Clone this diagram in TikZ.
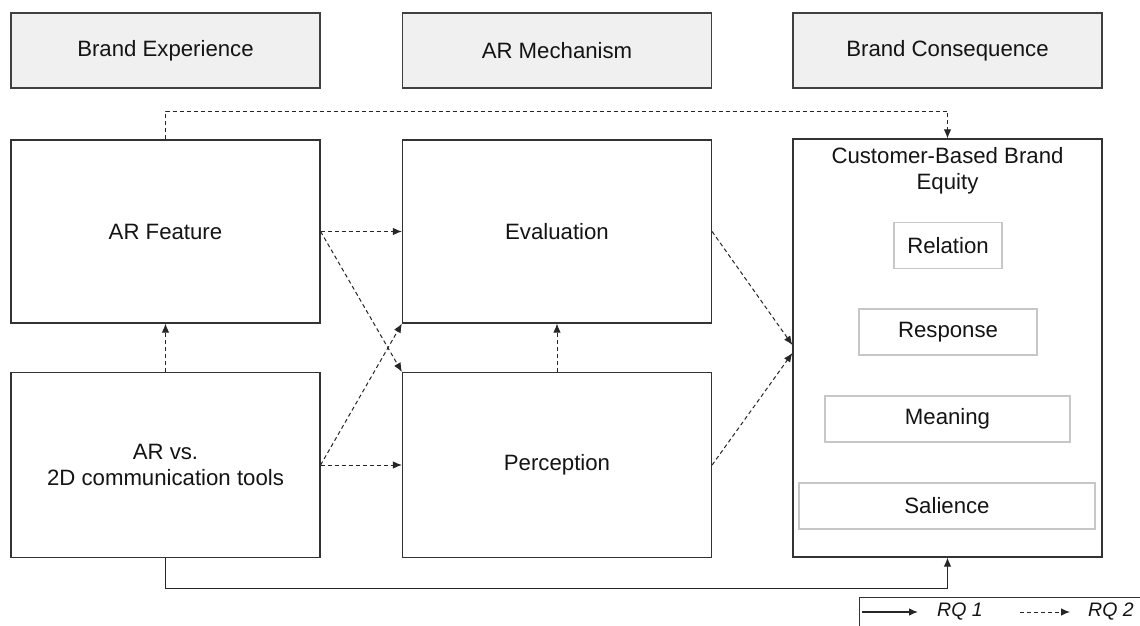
\documentclass[tikz,border=0pt]{standalone}
\usepackage{fontspec}
\setmainfont{Liberation Sans}
\usetikzlibrary{arrows.meta,calc}
\tikzset{
  txt/.style={font=\fontsize{22.2}{26}\selectfont, text=black!92},
  hdr/.style={txt, draw=black!75, fill=black!6, line width=1.2pt, minimum width=309pt, minimum height=75pt, inner sep=0pt},
  bigbox/.style={txt, draw=black!80, line width=1.2pt, minimum width=309pt, align=center, inner sep=0pt},
  subbox/.style={txt, draw=black!22, line width=1.2pt, minimum height=46pt, inner sep=0pt},
  dasharr/.style={draw=black!85, line width=1pt, dash pattern=on 4pt off 3pt, -{Latex[length=9pt,width=7.5pt]}},
  solarr/.style={draw=black!85, line width=1.1pt, -{Latex[length=9pt,width=7.5pt]}},
}
\begin{document}
\begin{tikzpicture}[x=1pt,y=-1pt]
\clip (0,0) rectangle (1140,626);
\fill[white] (0,0) rectangle (1140,626);

% headers
\node[hdr] (h1) at (165.5,50.5) {Brand Experience};
\node[hdr] (h2) at (557,50.5) {AR Mechanism};
\node[hdr] (h3) at (947.5,50.5) {Brand Consequence};

% main boxes
\node[bigbox, minimum height=183pt] (feat) at (165.5,231.5) {AR Feature};
\node[bigbox, minimum height=183pt] (eval) at (557,231.5) {Evaluation};
\node[bigbox, minimum height=185pt] (arvs) at (165.5,465) {AR vs.\\2D communication tools};
\node[bigbox, minimum height=185pt] (perc) at (557,465) {Perception};
\node[bigbox, minimum height=418pt] (cbbe) at (947.5,348) {};
\node[txt, align=center, inner sep=0pt] (cbt) at (947.5,171) {Customer-Based Brand\\Equity};

% sub boxes
\node[subbox, minimum width=108pt] (rel) at (948,245.5) {Relation};
\node[subbox, minimum width=178pt] (resp) at (948,332) {Response};
\node[subbox, minimum width=245pt] (mean) at (947.5,419) {Meaning};
\node[subbox, minimum width=296pt] (sal) at (947,506) {Salience};

% connectors
\draw[dasharr] (feat.north) -- ++(0,-28) -| (cbbe.north);
\draw[dasharr] (feat.east) -- (eval.west);
\draw[dasharr] (feat.east) -- (perc.north west);
\draw[dasharr] (arvs.east) -- (eval.south west);
\draw[dasharr] (arvs.east) -- (perc.west);
\draw[dasharr] (arvs.north) -- (feat.south);
\draw[dasharr] (perc.north) -- (eval.south);
\coordinate (ce1) at ($(cbbe.west)+(0,-3)$);
\coordinate (ce2) at ($(cbbe.west)+(0,5)$);
\draw[dasharr] (eval.east) -- (ce1);
\draw[dasharr] (perc.east) -- (ce2);
\draw[solarr] (arvs.south) -- ++(0,30) -| (cbbe.south);

% legend
\node[draw=black!80, line width=1.2pt, minimum width=320pt, minimum height=60pt, anchor=north west, inner sep=0pt] (legend) at (859,597) {};
\coordinate (l1a) at (862,612);
\coordinate (l1b) at (918,612);
\coordinate (l2a) at (1020,612);
\coordinate (l2b) at (1070,612);
\draw[solarr] (l1a) -- (l1b);
\draw[dasharr] (l2a) -- (l2b);
\node[txt, font=\fontsize{19.5}{22}\selectfont\itshape, anchor=west, inner sep=0pt] (rq1) at (937,612) {RQ 1};
\node[txt, font=\fontsize{19.5}{22}\selectfont\itshape, anchor=west, inner sep=0pt] (rq2) at (1088,612) {RQ 2};
\end{tikzpicture}
\end{document}
